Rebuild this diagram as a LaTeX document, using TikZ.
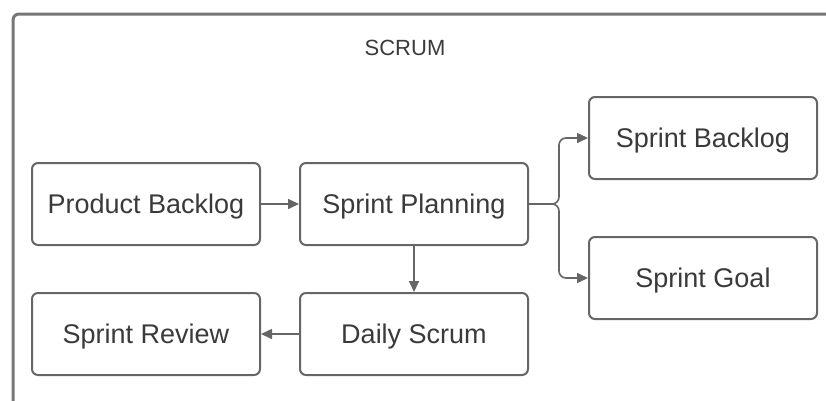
\documentclass[tikz,border=0pt]{standalone}
\usepackage{fontspec}
\setmainfont{Liberation Sans}
\usetikzlibrary{arrows.meta}
\definecolor{stroke}{HTML}{666666}
\definecolor{frame}{HTML}{777777}
\definecolor{txt}{HTML}{3A3A3A}
\begin{document}
\begin{tikzpicture}[x=1pt,y=-1pt,
  box/.style={draw=stroke,line width=2pt,rounded corners=6pt,minimum width=228pt,minimum height=82pt,
    inner sep=0pt,font=\fontsize{27}{32}\selectfont,text=txt,fill=white,text height=19.3pt,text depth=0pt},
  conn/.style={draw=stroke,line width=1.6pt,-{Triangle[length=11pt,width=10pt]}}]
\useasboundingbox (0,0) rectangle (826,400);
\draw[frame,line width=3pt,rounded corners=6pt] (13,420) -- (13,14) -- (850,14);
\node[text=txt,font=\fontsize{22}{26}\selectfont,inner sep=0pt,text height=15.8pt,text depth=0pt] (title) at (405,48) {SCRUM};
\node[box] (pb) at (146,204) {Product Backlog};
\node[box] (sp) at (414,204) {Sprint Planning};
\node[box] (sb) at (703,138) {Sprint Backlog};
\node[box] (sg) at (703,278) {Sprint Goal};
\node[box] (sr) at (146,334) {Sprint Review};
\node[box] (ds) at (414,334) {Daily Scrum};
\coordinate (j) at (559,204);
\draw[conn] (pb) -- (sp);
\draw[conn] (sp) -- (ds);
\draw[conn] (ds) -- (sr);
\draw[conn,rounded corners=7pt] (sp.east) -- (j) |- (sb.west);
\draw[conn,rounded corners=7pt] (sp.east) -- (j) |- (sg.west);
\end{tikzpicture}
\end{document}
